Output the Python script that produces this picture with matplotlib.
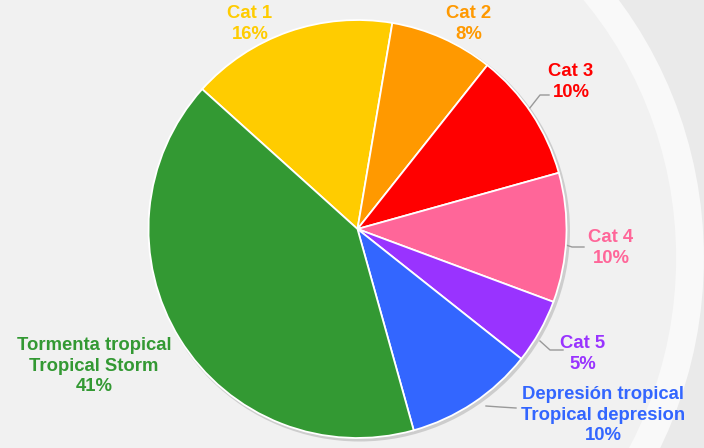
import matplotlib

matplotlib.use("Agg")
import matplotlib.pyplot as plt  # noqa: E402
from matplotlib.patches import Circle, Ellipse  # noqa: E402

# hurricane category shares (percent)
labels = ["Cat 1", "Cat 2", "Cat 3", "Cat 4", "Cat 5",
          "Depresión tropical\nTropical depresion", "Tormenta tropical\nTropical Storm"]
shares = [16, 8, 10, 10, 5, 10, 41]
colors = ["#FFCC00", "#FF9900", "#FF0000", "#FF6699", "#9933FF", "#3366FF", "#339933"]

plt.rcParams["font.family"] = ["Liberation Sans", "DejaVu Sans"]

W, H = 704, 448
fig = plt.figure(figsize=(7.04, 4.48), dpi=100)
fig.patch.set_facecolor("#eaeaea")
ax = fig.add_axes([0, 0, 1, 1])
ax.set_facecolor("#eaeaea")

# soft slide background: lighter area with a whitish band curving round the right
ax.add_patch(Ellipse((290, 190), 800, 822, facecolor="#f1f1f1",
                     edgecolor="#f9f9f9", linewidth=20, zorder=0))

cx, cy, r = 357.5, H - 229, 209
# faint shadow behind the pie
ax.add_patch(Circle((cx + 2, cy - 2), r + 1.5, facecolor="#aaaaaa", edgecolor="none", alpha=0.5, zorder=1))

wedges, _ = ax.pie(shares, colors=colors, startangle=138, counterclock=False,
                   center=(cx, cy), radius=r, frame=True,
                   wedgeprops=dict(edgecolor="white", linewidth=1.3))
for w in wedges:
    w.set_zorder(2)

# label positions in pixel coords (x, y from top)
label_pos = [(250, 24), (469, 24), (571, 82), (611, 248), (583, 354), (603, 415), (94, 366)]
for lab, val, col, (x, y) in zip(labels, shares, colors, label_pos):
    ax.text(x, H - y, f"{lab}\n{val}%", color=col, fontsize=13.3, fontweight="bold",
            ha="center", va="center", linespacing=1.25, zorder=3)

# leader lines
leaders = [
    ([529, 540, 549], [109, 95, 95]),
    ([563, 572, 584], [244, 247, 247]),
    ([540, 550, 563], [341, 350, 350]),
    ([486, 500, 516], [406, 407, 408]),
]
for xs, ys in leaders:
    ax.plot(xs, [H - v for v in ys], color="#999999", linewidth=1, zorder=1.5)

ax.set_xlim(0, W)
ax.set_ylim(0, H)
ax.set_aspect("auto")
ax.axis("off")

fig.savefig("out.png", dpi=100, facecolor=fig.get_facecolor())
